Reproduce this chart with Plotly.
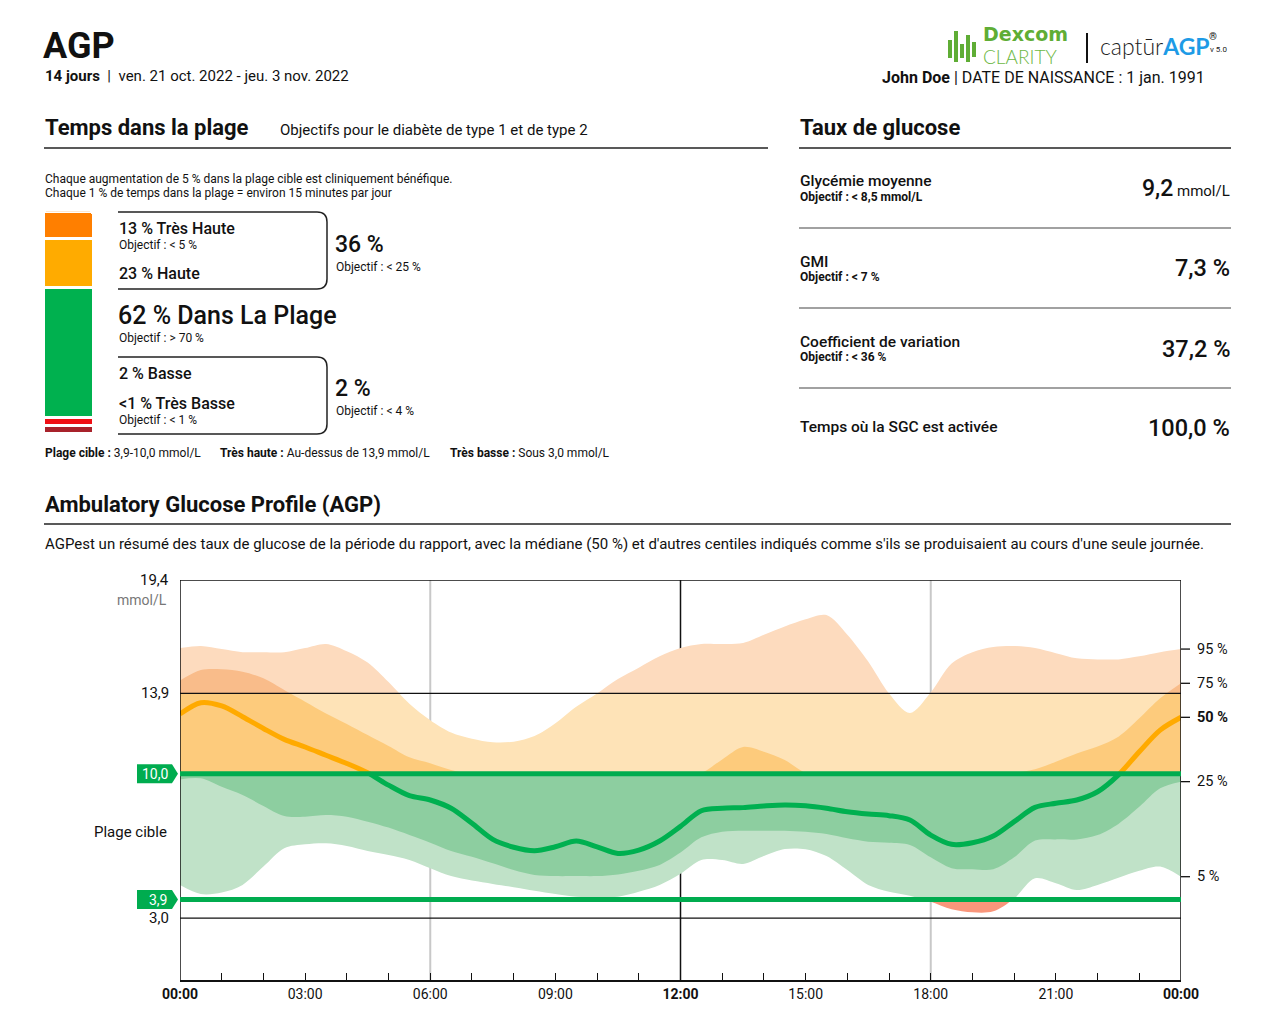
import plotly.graph_objects as go

# ---------------- DATA ----------------
hours = [i * 0.5 for i in range(49)]  # 00:00 .. 24:00 every 30 min

p95 = [16.1, 16.2, 16.05, 15.9, 15.9, 15.9, 16.1, 16.3, 15.95, 15.4, 14.45, 13.4, 12.6,
       12.0, 11.7, 11.53, 11.56, 11.83, 12.45, 13.25, 13.9, 14.6, 15.15, 15.7, 16.1,
       16.3, 16.3, 16.35, 16.75, 17.15, 17.5, 17.7, 16.75, 15.45, 13.9, 12.95, 13.95,
       15.35, 15.9, 16.15, 16.2, 16.1, 15.85, 15.6, 15.55, 15.55, 15.7, 15.9, 16.05]
p75 = [14.52, 15.03, 15.07, 14.95, 14.63, 14.06, 13.5, 12.93, 12.42, 11.88, 11.35, 10.8,
       10.51, 10.18, 10.0, 9.95, 9.95, 9.95, 9.98, 10.05, 10.1, 10.05, 10.0, 9.98, 9.98,
       10.05, 10.7, 11.3, 11.07, 10.67, 10.05, 9.95, 9.95, 9.95, 9.95, 9.95, 9.95, 9.95,
       9.97, 9.98, 10.05, 10.22, 10.59, 10.99, 11.32, 11.8, 12.69, 13.66, 14.39]
p50 = [12.9, 13.45, 13.29, 12.77, 12.2, 11.67, 11.3, 10.9, 10.5, 10.05, 9.45, 8.94, 8.73,
       8.33, 7.6, 6.82, 6.44, 6.27, 6.46, 6.74, 6.46, 6.14, 6.3, 6.74, 7.45, 8.21, 8.33,
       8.36, 8.44, 8.49, 8.45, 8.33, 8.16, 8.05, 7.97, 7.76, 7.03, 6.58, 6.66, 6.98, 7.68,
       8.37, 8.57, 8.73, 9.13, 9.95, 11.07, 12.12, 12.74]
p25 = [9.73, 9.78, 9.37, 8.97, 8.44, 7.95, 7.92, 8.0, 7.92, 7.68, 7.39, 7.03, 6.66, 6.26,
       5.98, 5.66, 5.33, 5.09, 5.04, 5.04, 5.04, 5.12, 5.3, 5.58, 6.18, 6.92, 7.19, 7.24,
       7.24, 7.24, 7.19, 7.08, 6.87, 6.71, 6.66, 6.55, 5.95, 5.42, 5.37, 5.37, 5.95, 6.76,
       6.82, 6.82, 7.03, 7.57, 8.4, 9.3, 9.62]
p5 = [4.61, 4.17, 4.24, 4.61, 5.5, 6.39, 6.58, 6.63, 6.5, 6.26, 6.06, 5.82, 5.42, 5.04,
      4.82, 4.66, 4.5, 4.33, 4.17, 4.04, 4.01, 4.04, 4.28, 4.61, 5.15, 5.82, 5.82, 5.63,
      6.01, 6.35, 6.34, 6.01, 5.33, 4.61, 4.28, 4.09, 3.8, 3.43, 3.28, 3.33, 3.95, 4.93,
      4.69, 4.36, 4.61, 4.96, 5.3, 5.5, 5.01]

x_tickvals = [0, 3, 6, 9, 12, 15, 18, 21, 24]
x_ticktext = ["<b>00:00</b>", "03:00", "06:00", "09:00", "<b>12:00</b>", "15:00",
              "18:00", "21:00", "<b>00:00</b>"]
y_labels = [(19.4, "19,4"), (13.9, "13,9"), (3.0, "3,0")]
target_low, target_high = 3.9, 10.0
very_high_thr, very_low_thr = 13.9, 3.0
y_max = 19.4

# Time in range (bottom -> top)
tir_names = ["Très Basse", "Basse", "Dans La Plage", "Haute", "Très Haute"]
tir_values = [0.6, 2, 62, 23, 13]
tir_colors = ["#A8222B", "#F00F14", "#00B14F", "#FFAB00", "#FF7F00"]

# Glucose statistics
stat_names = ["Glycémie moyenne", "GMI", "Coefficient de variation", "Temps où la SGC est activée"]
stat_goals = ["Objectif : < 8,5 mmol/L", "Objectif : < 7 %", "Objectif : < 36 %", ""]
stat_values = ["9,2", "7,3 %", "37,2 %", "100,0 %"]
stat_units = ["mmol/L", "", "", ""]

# ---------------- HELPERS ----------------
W, H = 1275, 1029
FONT = "Roboto, Arial, sans-serif"
PX_L, PX_R, PY_T, PY_B = 180, 1181, 580, 980


def X(px):
    return px / W


def Y(py):
    return 1 - py / H


def ydom(v):
    return Y(PY_B) + (Y(PY_T) - Y(PY_B)) * v / y_max


UPP = y_max / (PY_B - PY_T)  # data units per pixel (for label sizes)

annotations = []
shapes = []


def txt(s, x, y, size=14, anchor="left", color="#111", weight=None, yanchor="middle",
        family=FONT):
    f = dict(size=size, color=color, family=family)
    if weight:
        f["weight"] = weight
    annotations.append(dict(text=s, x=X(x), y=Y(y), xref="paper", yref="paper",
                            xanchor=anchor, yanchor=yanchor, showarrow=False, font=f,
                            borderpad=0))


def hline(x0, x1, y, color="#222", width=1.5, layer="above"):
    shapes.append(dict(type="line", xref="paper", yref="paper", x0=X(x0), x1=X(x1),
                       y0=Y(y), y1=Y(y), line=dict(color=color, width=width), layer=layer))


fig = go.Figure()

# ---------------- AGP bands (one clipped sub-plot per glucose range) ----------------
regions = [
    (very_high_thr, y_max, "#FDDBBE", "#F9BC8A", "#FFAA00"),
    (target_high, very_high_thr, "#FEE3B7", "#FDCB7C", "#FFAA00"),
    (target_low, target_high, "#C0E2C8", "#8DCEA0", "#00B050"),
    (0, target_low, "#F9967B", "#F47A5A", "#00B050"),
]

# base axis (full range), used for shapes/labels
fig.add_trace(go.Scatter(x=[None], y=[None], xaxis="x", yaxis="y", showlegend=False,
                         hoverinfo="skip"))

SM = 0.9
layout_axes = {}
for i, (lo, hi, light, dark, mcol) in enumerate(regions):
    ya = f"y{i + 2}"
    common = dict(x=hours, xaxis="x", yaxis=ya, mode="lines", hoverinfo="skip",
                  showlegend=False)
    fig.add_trace(go.Scatter(y=p5, line=dict(width=0, shape="spline", smoothing=SM), **common))
    fig.add_trace(go.Scatter(y=p95, line=dict(width=0, shape="spline", smoothing=SM),
                             fill="tonexty", fillcolor=light, **common))
    fig.add_trace(go.Scatter(y=p25, line=dict(width=0, shape="spline", smoothing=SM), **common))
    fig.add_trace(go.Scatter(y=p75, line=dict(width=0, shape="spline", smoothing=SM),
                             fill="tonexty", fillcolor=dark, **common))
    fig.add_trace(go.Scatter(y=p50, line=dict(width=5, shape="spline", smoothing=SM,
                                              color=mcol), **common))
    layout_axes[f"yaxis{i + 2}"] = dict(domain=[ydom(lo), ydom(hi)], range=[lo, hi],
                                        visible=False, fixedrange=True, anchor="x",
                                        automargin=False)

# ---------------- Time-in-range stacked bar ----------------
bar_display = [max(v, 4) for v in tir_values]
for name, v, c in zip(tir_names, bar_display, tir_colors):
    fig.add_trace(go.Bar(x=[0], y=[v], xaxis="x2", yaxis="y6", marker=dict(color=c,
                         line=dict(color="white", width=2.5)), name=name,
                         hoverinfo="skip", showlegend=False))

# ---------------- Chart frame & guides ----------------
for hh, col, wd in [(6, "#C8C8C8", 2), (18, "#C8C8C8", 2), (12, "#111", 1.5)]:
    shapes.append(dict(type="line", xref="x", yref="paper", x0=hh, x1=hh, y0=Y(PY_B),
                       y1=Y(PY_T), line=dict(color=col, width=wd), layer="below"))
for v in [very_high_thr, very_low_thr, y_max]:
    shapes.append(dict(type="line", xref="x", yref="y", x0=0, x1=24, y0=v, y1=v,
                       line=dict(color="#111", width=1.4), layer="above"))
for xx in [0, 24]:
    shapes.append(dict(type="line", xref="x", yref="y", x0=xx, x1=xx, y0=0, y1=y_max,
                       line=dict(color="#111", width=1.5), layer="above"))
for v in [target_high, target_low]:
    shapes.append(dict(type="line", xref="x", yref="y", x0=0, x1=24, y0=v, y1=v,
                       line=dict(color="#00AC4F", width=5), layer="above"))
    hh = 9.5 * UPP
    path = (f"M {X(137):.5f},{v + hh:.4f} L {X(172):.5f},{v + hh:.4f} L {X(178):.5f},{v:.4f} "
            f"L {X(172):.5f},{v - hh:.4f} L {X(137):.5f},{v - hh:.4f} Z")
    shapes.append(dict(type="path", xref="paper", yref="y", path=path,
                       fillcolor="#00AC4F", line=dict(width=0), layer="above"))
    annotations.append(dict(text=f"{v:.1f}".replace(".", ","), x=X(170), y=v, xref="paper",
                            yref="y", xanchor="right", yanchor="middle", showarrow=False,
                            font=dict(size=14, color="white", family=FONT)))

for v, lab in y_labels:
    annotations.append(dict(text=lab, x=X(171), y=v, xref="paper", yref="y",
                            xanchor="right", yanchor="middle", showarrow=False,
                            font=dict(size=15, color="#111", family=FONT)))
txt("mmol/L", 168, 600, size=14, anchor="right", color="#777")
txt("Plage cible", 168, 832, size=15, anchor="right")

# percentile labels at right
for lab, ser, wt in [("95 %", p95, None), ("75 %", p75, None), ("50 %", p50, "bold"),
                     ("25 %", p25, None), ("5 %", p5, None)]:
    v = ser[-1]
    shapes.append(dict(type="line", xref="paper", yref="y", x0=X(1181), x1=X(1190), y0=v,
                       y1=v, line=dict(color="#111", width=1.3), layer="above"))
    f = dict(size=14.5, color="#111", family=FONT)
    if wt:
        f["weight"] = wt
    annotations.append(dict(text=lab, x=X(1195), y=v, xref="paper", yref="y",
                            xanchor="left", yanchor="middle", showarrow=False, font=f))

# ---------------- Header ----------------
txt("AGP", 42, 46, size=36, weight="bold")
txt("<b>14 jours</b>  |  ven. 21 oct. 2022 - jeu. 3 nov. 2022", 44, 76, size=15)
txt("<b>John Doe</b> | DATE DE NAISSANCE : 1 jan. 1991", 1206, 77.5, size=16, anchor="right")

# Dexcom logo bars
for xb, y0b, y1b in [(950, 40, 58), (956, 31, 62), (962, 44, 58), (968, 35, 62), (974, 42, 57)]:
    shapes.append(dict(type="line", xref="paper", yref="paper", x0=X(xb), x1=X(xb),
                       y0=Y(y0b), y1=Y(y1b), line=dict(color="#5FAD35", width=4)))
txt("Dexcom", 982, 34, size=19, weight="bold", color="#5FAD35",
    family="DejaVu Sans, sans-serif")
txt("CLARITY", 982, 56.5, size=19, weight=300, color="#6DB844",
    family="Lato, sans-serif")
shapes.append(dict(type="line", xref="paper", yref="paper", x0=X(1087), x1=X(1087),
                   y0=Y(33), y1=Y(63), line=dict(color="#111", width=2)))
txt("captūr<b><span style='color:#1E9BE6'>AGP</span></b>", 1099, 46, size=23, weight=300,
    color="#222", family="Lato, sans-serif")
txt("®", 1208, 37, size=10, color="#222", weight="bold")
txt("v 5.0", 1209, 49, size=8, color="#222")

# ---------------- Section: Temps dans la plage ----------------
txt("Temps dans la plage", 44, 128, size=22, weight="bold")
txt("Objectifs pour le diabète de type 1 et de type 2", 279, 130, size=15)
hline(44, 768, 148)
txt("Chaque augmentation de 5 % dans la plage cible est cliniquement bénéfique.", 44, 179,
    size=12)
txt("Chaque 1 % de temps dans la plage = environ 15 minutes par jour", 44, 193, size=12)

# brackets
for top, bot in [(212, 289), (357, 434)]:
    r = 10
    pts = f"M {X(118):.5f},{Y(top):.5f} L {X(327 - r):.5f},{Y(top):.5f} " \
          f"Q {X(327):.5f},{Y(top):.5f} {X(327):.5f},{Y(top + r):.5f} " \
          f"L {X(327):.5f},{Y(bot - r):.5f} Q {X(327):.5f},{Y(bot):.5f} {X(327 - r):.5f},{Y(bot):.5f} " \
          f"L {X(118):.5f},{Y(bot):.5f}"
    shapes.append(dict(type="path", xref="paper", yref="paper", path=pts,
                       line=dict(color="#222", width=1.5)))

txt(f"{tir_values[4]:.0f} % Très Haute", 118, 228, size=16, weight=500)
txt("Objectif : < 5 %", 118, 245, size=12)
txt(f"{tir_values[3]:.0f} % Haute", 118, 273, size=16, weight=500)
txt(f"{tir_values[4] + tir_values[3]:.0f} %", 334, 244, size=23, weight=500)
txt("Objectif : < 25 %", 335, 267, size=12)
txt(f"{tir_values[2]:.0f} % Dans La Plage", 117, 316, size=25, weight=500)
txt("Objectif : > 70 %", 118, 338, size=12)
txt(f"{tir_values[1]:.0f} % Basse", 118, 373, size=16, weight=500)
txt("<1 % Très Basse", 118, 403, size=16, weight=500)
txt("Objectif : < 1 %", 118, 420, size=12)
txt(f"{tir_values[1]:.0f} %", 334, 388, size=23, weight=500)
txt("Objectif : < 4 %", 335, 411, size=12)
txt("<b>Plage cible :</b> 3,9-10,0 mmol/L", 44, 453, size=12)
txt("<b>Très haute :</b> Au-dessus de 13,9 mmol/L", 219, 453, size=12)
txt("<b>Très basse :</b> Sous 3,0 mmol/L", 449, 453, size=12)

# ---------------- Section: Taux de glucose ----------------
txt("Taux de glucose", 799, 128, size=22, weight="bold")
hline(799, 1231, 148)
rows_y = [(181, 197, 189), (262, 277, 268), (342, 357, 349), (427, None, 428)]
for i, (ny, gy, vy) in enumerate(rows_y):
    txt(stat_names[i], 799, ny, size=15.5, weight=500)
    if gy is not None and stat_goals[i]:
        txt(stat_goals[i], 799, gy, size=12, weight="bold")
    if stat_units[i]:
        txt(stat_units[i], 1231, vy + 2, size=15, anchor="right")
        txt(stat_values[i], 1174, vy, size=23, anchor="right", weight=500)
    else:
        txt(stat_values[i], 1231, vy, size=23.5, anchor="right", weight=500)
for ly in [228, 308, 388]:
    hline(799, 1231, ly, color="#444", width=1.2)

# ---------------- Section: AGP ----------------
txt("Ambulatory Glucose Profile (AGP)", 44, 504, size=22, weight="bold")
hline(44, 1231, 524)
txt("AGPest un résumé des taux de glucose de la période du rapport, avec la médiane (50 %) "
    "et d'autres centiles indiqués comme s'ils se produisaient au cours d'une seule journée.",
    44, 544, size=15)

# ---------------- Layout ----------------
fig.update_layout(
    width=W, height=H, autosize=False,
    margin=dict(l=0, r=0, t=0, b=0, pad=0, autoexpand=False),
    paper_bgcolor="white", plot_bgcolor="rgba(0,0,0,0)", showlegend=False,
    barmode="stack", bargap=0, barcornerradius=3,
    xaxis=dict(domain=[X(PX_L), X(PX_R)], range=[0, 24], anchor="y", showgrid=False,
               zeroline=False, showline=True, linecolor="#111", linewidth=1.5,
               tickmode="array", tickvals=x_tickvals, ticktext=x_ticktext,
               ticks="inside", ticklen=7, tickwidth=1.2, tickcolor="#111",
               minor=dict(dtick=1, ticks="inside", ticklen=7, tickwidth=1.2, tickcolor="#111"),
               tickfont=dict(size=14, color="#111", family=FONT), fixedrange=True,
               automargin=False),
    yaxis=dict(domain=[ydom(0), ydom(y_max)], range=[0, y_max], visible=False,
               fixedrange=True, anchor="x", automargin=False),
    xaxis2=dict(domain=[X(44), X(93)], range=[-0.5, 0.5], visible=False, anchor="y6",
                fixedrange=True, automargin=False),
    yaxis6=dict(domain=[Y(434), Y(211.7)], range=[0, sum(bar_display)], visible=False,
                anchor="x2", fixedrange=True, automargin=False),
    annotations=annotations, shapes=shapes,
    **layout_axes,
)

fig.write_html("out.html", include_plotlyjs=True, config={"displayModeBar": False},
               post_script="document.body.style.margin='0';document.body.style.overflow='hidden';")
